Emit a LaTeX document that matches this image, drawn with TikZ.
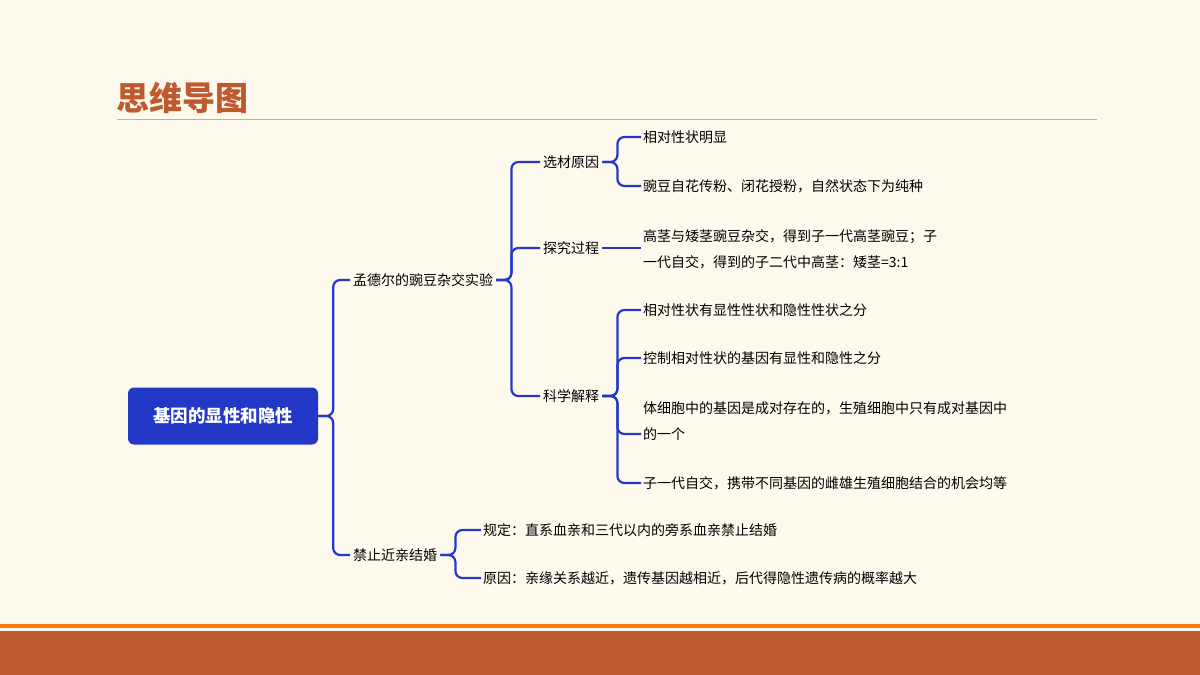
\documentclass[tikz,border=0pt]{standalone}
\usepackage{fontspec}
\setmainfont{Noto Sans CJK SC}
\usetikzlibrary{positioning}
\definecolor{bgc}{HTML}{FDF9EC}
\definecolor{rust}{HTML}{BF5A2E}
\definecolor{mapblue}{HTML}{2438C8}
\begin{document}
\begin{tikzpicture}[x=1pt,y=-1pt,
  leaf/.style={anchor=west, inner xsep=2pt, inner ysep=2pt, font=\fontsize{14}{26}\selectfont, align=left},
  branch/.style={leaf, inner xsep=3pt},
  link/.style={draw=mapblue, line width=2.2pt, rounded corners=7pt}]
  \useasboundingbox (0,0) rectangle (1200,675);
  \fill[bgc] (0,0) rectangle (1200,675);
  \node[anchor=west, text=rust, font=\fontsize{33}{33}\selectfont\bfseries] (title) at (113,98) {思维导图};
  \draw[gray!60, line width=1pt] (117,119) -- (1097,119);
  \fill[orange!90!rust] (0,624) rectangle (1200,628);
  \fill[rust] (0,631) rectangle (1200,675);
  % root
  \node[fill=mapblue, text=white, rounded corners=6pt, minimum width=190pt, minimum height=57pt,
        font=\fontsize{17.5}{17}\selectfont\bfseries] (root) at (223,416) {基因的显性和隐性};
  % first level
  \node[branch] (mdr) at (350,280) {孟德尔的豌豆杂交实验};
  \node[branch] (jz) at (350,555) {禁止近亲结婚};
  % second level
  \node[branch] (xc) at (540,162) {选材原因};
  \node[branch] (tj) at (540,248) {探究过程};
  \node[branch] (kx) at (540,396) {科学解释};
  % leaves
  \node[leaf] (xc1) at (641,137) {相对性状明显};
  \node[leaf] (xc2) at (641,186) {豌豆自花传粉、闭花授粉，自然状态下为纯种};
  \node[leaf] (tj1) at (641,249) {高茎与矮茎豌豆杂交，得到子一代高茎豌豆；子\\一代自交，得到的子二代中高茎：矮茎=3:1};
  \node[leaf] (kx1) at (641,310) {相对性状有显性性状和隐性性状之分};
  \node[leaf] (kx2) at (641,358) {控制相对性状的基因有显性和隐性之分};
  \node[leaf] (kx3) at (641,421) {体细胞中的基因是成对存在的，生殖细胞中只有成对基因中\\的一个};
  \node[leaf] (kx4) at (641,483) {子一代自交，携带不同基因的雌雄生殖细胞结合的机会均等};
  \node[leaf] (jz1) at (481,530) {规定：直系血亲和三代以内的旁系血亲禁止结婚};
  \node[leaf] (jz2) at (481,578) {原因：亲缘关系越近，遗传基因越相近，后代得隐性遗传病的概率越大};
  % connectors
  \foreach \c in {mdr,jz} \draw[link] (root.east) -- ++(15,0) |- (\c.west);
  \foreach \c in {xc,tj,kx} \draw[link] (mdr.east) -- ++(15,0) |- (\c.west);
  \foreach \c in {xc1,xc2} \draw[link] (xc.east) -- ++(15,0) |- (\c.west);
  \draw[link] (tj.east) -- (tj.east -| tj1.west);
  \foreach \c in {kx1,kx2,kx4} \draw[link] (kx.east) -- ++(15,0) |- (\c.west);
  \draw[link] (kx.east) -- ++(15,0) |- ([yshift=-13pt]kx3.west);
  \foreach \c in {jz1,jz2} \draw[link] (jz.east) -- ++(15,0) |- (\c.west);
\end{tikzpicture}
\end{document}
